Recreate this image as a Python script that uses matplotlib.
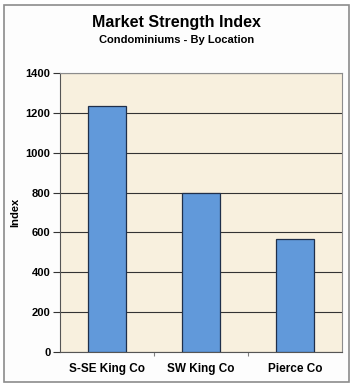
import matplotlib
matplotlib.use("Agg")
import matplotlib.pyplot as plt
from matplotlib.patches import Rectangle

# data
locations = ["S-SE King Co", "SW King Co", "Pierce Co"]
index_values = [1236, 796, 566]
y_ticks = [0, 200, 400, 600, 800, 1000, 1200, 1400]

plt.rcParams['font.family'] = ['Liberation Sans', 'DejaVu Sans']
plt.rcParams['font.weight'] = 'bold'

W, H = 353, 386
fig = plt.figure(figsize=(W / 100, H / 100), dpi=100, facecolor='white')

# outer frame, kept behind the axes
fig.patches.append(Rectangle((4 / W, 4 / H), 345 / W, 377 / H, transform=fig.transFigure,
                             facecolor='#fdfdfd', edgecolor='#8c8c8c', linewidth=1.2, zorder=-5))

ax = fig.add_axes([60 / W, (H - 352) / H, 282 / W, 279 / H])
ax.set_facecolor('#f8f0de')

x = range(len(locations))
ax.bar(x, index_values, width=0.4, color='#6199da', edgecolor='#1f2f4a', linewidth=0.9, zorder=3)

ax.set_xlim(-0.5, len(locations) - 0.5)
ax.set_ylim(0, 1400)
ax.set_yticks(y_ticks)
ax.set_yticklabels([str(v) for v in y_ticks], fontsize=8, fontweight='bold')
ax.yaxis.grid(True, color='#333333', linewidth=0.8, zorder=1)

ax.set_xticks([i + 0.5 for i in range(len(locations) - 1)])
ax.set_xticklabels([])
ax.set_xticks(list(x), minor=True)
ax.set_xticklabels(locations, minor=True, fontsize=8.5, fontweight='bold')
ax.tick_params(axis='x', which='minor', length=0, pad=8)
ax.tick_params(axis='x', which='major', length=3, color='#808080')
ax.tick_params(axis='y', length=5, color='#333333', pad=2)

for side in ['top', 'right']:
    ax.spines[side].set_color('#8c8c8c')
for side in ['left', 'bottom']:
    ax.spines[side].set_color('#555555')

ax.set_ylabel("Index", fontsize=8, fontweight='bold')
ax.yaxis.set_label_coords(-40 / 282, 0.5)

fig.text(0.5, 1 - 23 / H, "Market Strength Index", ha='center', va='center',
         fontsize=11.5, fontweight='bold')
fig.text(0.5, 1 - 40 / H, "Condominiums - By Location", ha='center', va='center',
         fontsize=8, fontweight='bold')

fig.savefig("out.png", dpi=100)
